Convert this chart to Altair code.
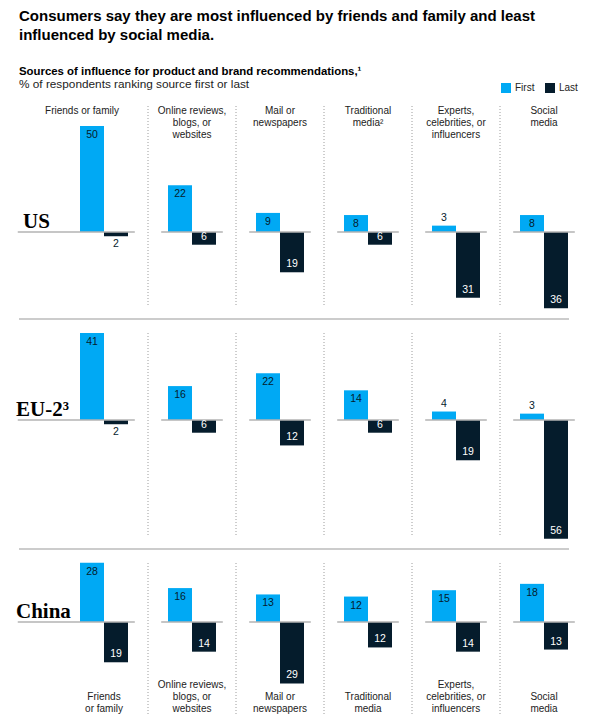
import altair as alt
import pandas as pd

# ---------------- data ----------------
categories = ["Friends or family", "Online reviews, blogs, or websites",
              "Mail or newspapers", "Traditional media",
              "Experts, celebrities, or influencers", "Social media"]
top_headers = ["Friends or family", "Online reviews,\nblogs, or\nwebsites",
               "Mail or\nnewspapers", "Traditional\nmedia\u00b2",
               "Experts,\ncelebrities, or\ninfluencers", "Social\nmedia"]
bottom_headers = ["Friends\nor family", "Online reviews,\nblogs, or\nwebsites",
                  "Mail or\nnewspapers", "Traditional\nmedia",
                  "Experts,\ncelebrities, or\ninfluencers", "Social\nmedia"]
series = ["First", "Last"]
regions = ["US", "EU-2\u00b3", "China"]
us_first = [50, 22, 9, 8, 3, 8]
us_last = [2, 6, 19, 6, 31, 36]
eu_first = [41, 16, 22, 14, 4, 3]
eu_last = [2, 6, 12, 6, 19, 56]
cn_first = [28, 16, 13, 12, 15, 18]
cn_last = [19, 14, 29, 12, 14, 13]

title_lines = ["Consumers say they are most influenced by friends and family and least",
               "influenced by social media."]
subtitle_bold = "Sources of influence for product and brand recommendations,\u00b9"
subtitle_reg = "% of respondents ranking source first or last"

# ---------------- style / layout ----------------
BLUE = "#00A9F4"
NAVY = "#051C2C"
SANS = "Liberation Sans"
SERIF = "Liberation Serif"
W = 581
STEP = 88.0
C0 = 96.0
PX = 2.12
HW = 24.0 / STEP
LH = 12
x_scale = alt.Scale(domain=[-C0 / STEP, (W - C0) / STEP], nice=False, zero=False)
color_scale = alt.Scale(domain=series, range=[BLUE, NAVY])


def region_df(first, last):
    rows = []
    for i, cat in enumerate(categories):
        for s, v in zip(series, (first[i], last[i])):
            rows.append({"cat": cat, "idx": i, "series": s, "pct": v})
    return pd.DataFrame(rows)


def row_chart(name, first, last, height, base_px, sep_top, sep_bot, label_x,
              headers=None, header_y=0, header_top=True, rowline=True, show_legend=False):
    df = region_df(first, last)
    y_scale = alt.Scale(domain=[-(height - base_px) / PX, base_px / PX], nice=False, zero=False)
    base = alt.Chart(df).transform_calculate(
        signed="datum.series == 'First' ? datum.pct : -datum.pct",
        zero="0",
        xa=f"datum.series == 'First' ? datum.idx - {HW} : datum.idx",
        xb=f"datum.series == 'First' ? datum.idx : datum.idx + {HW}",
        xm=f"datum.series == 'First' ? datum.idx - {HW / 2} : datum.idx + {HW / 2}",
    )
    if show_legend:
        leg = alt.Legend(orient="none", legendX=493, legendY=37, direction="horizontal",
                         title=None, symbolType="square", symbolSize=100,
                         symbolStrokeWidth=0, labelFont=SANS, labelFontSize=10,
                         labelColor="#222", labelOffset=4, columnPadding=10)
    else:
        leg = None
    cenc = alt.Color("series:N", scale=color_scale, legend=leg)
    bars = base.mark_bar().encode(
        x=alt.X("xa:Q", scale=x_scale, axis=None),
        x2="xb:Q",
        y=alt.Y("signed:Q", scale=y_scale, axis=None),
        y2="zero:Q",
        color=cenc,
    )

    def lab(filt, dy, col):
        return base.transform_filter(filt).mark_text(
            dy=dy, font=SANS, fontSize=10.5, baseline="middle", color=col).encode(
            x=alt.X("xm:Q", scale=x_scale, axis=None),
            y=alt.Y("signed:Q", scale=y_scale, axis=None),
            text="pct:Q")

    lab1 = lab("datum.series == 'First' && datum.pct >= 5", 9, NAVY)
    lab2 = lab("datum.series == 'First' && datum.pct < 5", -8, NAVY)
    lab3 = lab("datum.series == 'Last' && datum.pct >= 5", -8, "white")
    lab4 = lab("datum.series == 'Last' && datum.pct < 5", 8, NAVY)

    cat_df = pd.DataFrame({"idx": list(range(len(categories))), "cat": categories})
    baseline = alt.Chart(cat_df).transform_calculate(
        x0="datum.idx == 0 ? -0.98 : datum.idx - 0.35",
        x1="datum.idx + 0.35",
        zero="0",
    ).mark_rule(color="#b3b3b3", strokeWidth=1.6).encode(
        x=alt.X("x0:Q", scale=x_scale, axis=None), x2="x1:Q",
        y=alt.Y("zero:Q", scale=y_scale, axis=None))

    sep_df = pd.DataFrame({"idx": list(range(len(categories) - 1))})
    seps = alt.Chart(sep_df).transform_calculate(
        xs="datum.idx + 0.5").mark_rule(color="#9c9c9c", strokeWidth=1, strokeDash=[1, 2]).encode(
        x=alt.X("xs:Q", scale=x_scale, axis=None), y=alt.value(sep_top), y2=alt.value(sep_bot))

    rlabel = alt.Chart(pd.DataFrame({"region": [name], "zero": [0]})).mark_text(
        font=SERIF, fontWeight="bold", fontSize=21, align="left", baseline="alphabetic",
        dy=-4, color="#000").encode(
        text="region:N", x=alt.value(label_x),
        y=alt.Y("zero:Q", scale=y_scale, axis=None))

    layers = [seps, bars, baseline, lab1, lab2, lab3, lab4, rlabel]
    if headers is not None:
        hx = [(-0.25 if (i == 0 and header_top) else float(i)) for i in range(len(categories))]
        nlines = [h.count("\n") + 1 for h in headers]
        hdf = pd.DataFrame({"hx": hx, "h": headers, "n": nlines})
        if header_top:
            groups = [(None, header_y)]
        else:
            # bottom-aligned blocks: top of block depends on number of lines
            groups = [(n, header_y - LH * n) for n in sorted(set(nlines))]
        for n, ytop in groups:
            hc = alt.Chart(hdf)
            if n is not None:
                hc = hc.transform_filter(f"datum.n == {n}")
            hdr = hc.mark_text(
                font=SANS, fontSize=10, lineHeight=LH, lineBreak="\n", align="center",
                baseline="top", color="#222").encode(
                x=alt.X("hx:Q", scale=x_scale, axis=None), y=alt.value(ytop), text="h:N")
            layers.append(hdr)
    if rowline:
        rl = alt.Chart(pd.DataFrame({"k": [0]})).mark_rule(color="#cccccc", strokeWidth=2).encode(
            x=alt.value(11), x2=alt.value(561), y=alt.value(height - 1))
        layers.append(rl)
    return alt.layer(*layers).properties(width=W, height=height)


H0 = 54
sub_df = pd.DataFrame({"t": [subtitle_bold, subtitle_reg],
                       "w": ["bold", "normal"]})
header = alt.layer(
    alt.Chart(sub_df).transform_filter("datum.w == 'bold'").mark_text(
        font=SANS, fontSize=11.4, fontWeight="bold", align="left", baseline="alphabetic",
        color="#000").encode(text="t:N", x=alt.value(11), y=alt.value(29)),
    alt.Chart(sub_df).transform_filter("datum.w == 'normal'").mark_text(
        font=SANS, fontSize=11.8, align="left", baseline="alphabetic",
        color="#222").encode(text="t:N", x=alt.value(11), y=alt.value(42)),
).properties(width=W, height=H0)

us = row_chart(regions[0], us_first, us_last, 220, 132, 6, 207, 15,
               headers=top_headers, header_y=6, header_top=True, show_legend=True)
eu = row_chart(regions[1], eu_first, eu_last, 230, 100, 13, 217, 8)
cn = row_chart(regions[2], cn_first, cn_last, 170, 72, 13, 164, 8,
               headers=bottom_headers, header_y=166, header_top=False, rowline=False)

chart = alt.vconcat(
    header, us, eu, cn, spacing=0,
    padding={"top": 1, "left": 0, "right": 0, "bottom": 0},
    title=alt.TitleParams(text=title_lines, anchor="start", font=SANS, fontSize=15,
                          fontWeight="bold", color="#000", lineHeight=19, offset=3, dx=11),
).resolve_scale(y="independent").configure_view(stroke=None)

chart.save("out.html", embed_options={"renderer": "svg", "actions": False})
